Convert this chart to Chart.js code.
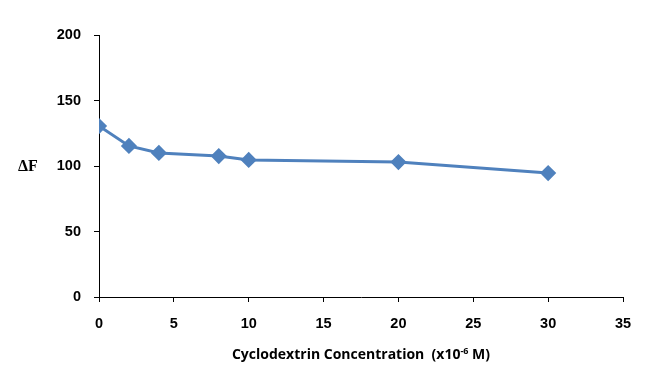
<!DOCTYPE html>
<html><head><meta charset="utf-8">
<script src="https://cdn.jsdelivr.net/npm/chart.js@4/dist/chart.umd.min.js"></script>
<style>html,body{margin:0;padding:0;background:#fff}#wrap{width:654px;height:377px}</style>
</head><body><div id="wrap"><canvas id="c" width="654" height="377"></canvas></div>
<script>
const concentrations = [0, 2, 4, 8, 10, 20, 30];
const deltaF = [130.5, 115.3, 110, 107.6, 104.6, 103, 94.6];
const xTitle = "Cyclodextrin Concentration  (x10";
const xTitleSup = "-6";
const xTitleEnd = " M)";
const yTitle = "\u0394F";

const titles = {
  id: 'titles',
  afterDraw(chart) {
    const ctx = chart.ctx;
    ctx.save();
    ctx.fillStyle = '#000';
    ctx.textBaseline = 'middle';
    ctx.font = 'bold 16px "Liberation Serif"';
    ctx.textAlign = 'left';
    ctx.fillText(yTitle, 18, 167);
    const f1 = 'bold 14px "Open Sans"';
    const f2 = 'bold 9px "Open Sans"';
    ctx.font = f1; const w1 = ctx.measureText(xTitle).width; const w3 = ctx.measureText(xTitleEnd).width;
    ctx.font = f2; const w2 = ctx.measureText(xTitleSup).width;
    let x = 361 - (w1 + w2 + w3) / 2; const y = 355;
    ctx.font = f1; ctx.fillText(xTitle, x, y); x += w1;
    ctx.font = f2; ctx.fillText(xTitleSup, x, y - 4); x += w2;
    ctx.font = f1; ctx.fillText(xTitleEnd, x, y);
    ctx.restore();
  }
};

new Chart(document.getElementById('c'), {
  type: 'scatter',
  data: { datasets: [{
    data: concentrations.map((c, i) => ({x: c, y: deltaF[i]})),
    showLine: true,
    borderColor: '#4F81BD',
    backgroundColor: '#4F81BD',
    borderWidth: 3,
    pointStyle: 'rectRot',
    pointRadius: 6,
    pointHoverRadius: 6,
    tension: 0
  }]},
  options: {
    responsive: false, animation: false,
    layout: { padding: { left: 0, right: 31, top: 35, bottom: 0 } },
    plugins: { legend: { display: false }, tooltip: { enabled: false } },
    scales: {
      x: {
        type: 'linear', min: 0, max: 35,
        afterFit(s) { s.height = 80; },
        grid: { drawOnChartArea: false, tickLength: 5, color: '#000' },
        border: { color: '#000', width: 1 },
        ticks: { stepSize: 5, color: '#000', padding: 13, font: { family: '"Liberation Sans"', size: 14.5, weight: 'bold' } }
      },
      y: {
        min: 0, max: 200,
        afterFit(s) { s.width = 99; },
        grid: { drawOnChartArea: false, tickLength: 5, color: '#000' },
        border: { color: '#000', width: 1 },
        ticks: { stepSize: 50, color: '#000', padding: 13, font: { family: '"Liberation Sans"', size: 14.5, weight: 'bold' } }
      }
    }
  },
  plugins: [titles]
});
</script></body></html>
